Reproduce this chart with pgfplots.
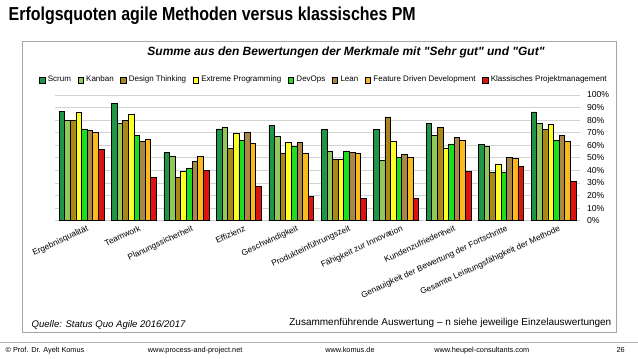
\documentclass[border=0pt]{standalone}
\usepackage{fontspec}
\setmainfont{Liberation Sans}
\newfontfamily\titlefont[FakeStretch=0.85]{Liberation Sans}
\newfontfamily\plainfont[Ligatures=TeXOff]{Liberation Sans}
\usepackage{pgfplots}
\pgfplotsset{compat=1.18}
\definecolor{cScrum}{RGB}{30,150,70}
\definecolor{cKanban}{RGB}{146,200,90}
\definecolor{cDT}{RGB}{170,135,25}
\definecolor{cXP}{RGB}{255,255,40}
\definecolor{cDevOps}{RGB}{30,220,30}
\definecolor{cLean}{RGB}{170,135,70}
\definecolor{cFDD}{RGB}{250,185,30}
\definecolor{cKlass}{RGB}{220,20,15}
\begin{document}
\begin{tikzpicture}[x=0.75pt,y=-0.75pt]
\path[fill=white] (0,0) rectangle (638,359);
\node[anchor=base west, inner sep=0pt, font=\titlefont\bfseries\fontsize{14.1}{16}\selectfont] at (8,21) {Erfolgsquoten agile Methoden versus klassisches PM};
\draw[gray!70, line width=0.5pt] (22,41) rectangle (617,333);
\node[font=\plainfont\bfseries\itshape\fontsize{9}{10}\selectfont] at (346,52) {Summe aus den Bewertungen der Merkmale mit "Sehr gut" und "Gut"};
\coordinate (AX) at (55,221);
\begin{axis}[
  at={(AX)}, anchor=south west,
  width=393.75pt, height=94.5pt, scale only axis,
  xmin=-0.5, xmax=9.5, ymin=0, ymax=100,
  ybar=0pt, bar width=0.107,
  axis x line*=bottom, axis y line*=right,
  x axis line style={draw=gray!40, -}, y axis line style={draw=none, -},
  major tick length=0pt,
  ymajorgrids, grid style={gray!35, line width=0.5pt},
  ytick={0,10,...,100},
  /pgf/number format/assume math mode=true,
  yticklabel={\pgfmathprintnumber{\tick}\%},
  yticklabel style={font=\fontsize{6.5}{7}\selectfont, anchor=west, xshift=2pt},
  xtick={0,...,9},
  xticklabels={Ergebnisqualität, Teamwork, Planungssicherheit, Effizienz, Geschwindigkeit, Produkteinführungszeit, Fähigkeit zur Innovation, Kundenzufriedenheit, Genauigkeit der Bewertung der Fortschritte, Gesamte Leistungsfähigkeit der Methode},
  x tick label style={rotate=25, anchor=north east, font=\fontsize{6.3}{7}\selectfont, inner sep=1pt, yshift=-3pt, xshift=3pt},
  every axis plot/.append style={draw=black, line width=0.5pt},
  legend style={at={(0.513,1)}, anchor=south, yshift=6pt, draw=none, fill=none, font=\fontsize{6}{7}\selectfont, inner sep=0pt, /tikz/every even column/.append style={column sep=2.9pt}},
  legend columns=-1,
  legend image code/.code={\draw[#1, draw=black, line width=0.3pt] (0pt,-2.1pt) rectangle (4.2pt,2.1pt);},
]
\addplot[fill=cScrum] coordinates {(0,87) (1,93) (2,54.5) (3,73) (4,75.5) (5,72.5) (6,72.5) (7,77) (8,60.5) (9,86.5)};
\addplot[fill=cKanban] coordinates {(0,80) (1,77) (2,51.5) (3,74) (4,67) (5,55.5) (6,48) (7,67.5) (8,59) (9,77)};
\addplot[fill=cDT] coordinates {(0,80) (1,79.5) (2,34.5) (3,57.5) (4,53.5) (5,49) (6,82.5) (7,74) (8,38.5) (9,72.5)};
\addplot[fill=cXP] coordinates {(0,86.5) (1,84.5) (2,39.5) (3,69.5) (4,62) (5,48.5) (6,63) (7,57.5) (8,44.5) (9,76.5)};
\addplot[fill=cDevOps] coordinates {(0,73) (1,67.5) (2,42) (3,63.5) (4,59) (5,55.5) (6,50.5) (7,61) (8,38.5) (9,63.5)};
\addplot[fill=cLean] coordinates {(0,71.5) (1,63) (2,47) (3,70) (4,62) (5,54.5) (6,52.5) (7,66) (8,50.5) (9,67.5)};
\addplot[fill=cFDD] coordinates {(0,70.5) (1,65) (2,51) (3,61.5) (4,53.5) (5,53.5) (6,50.5) (7,63.5) (8,49.5) (9,63)};
\addplot[fill=cKlass] coordinates {(0,56.5) (1,34.5) (2,40) (3,27) (4,19.5) (5,18) (6,18) (7,39.5) (8,43) (9,31.5)};
\legend{Scrum, Kanban, Design Thinking, Extreme Programming, DevOps, Lean, Feature Driven Development, Klassisches Projektmanagement}
\end{axis}
\node[anchor=base west, inner sep=0pt, font=\itshape\fontsize{7.2}{8}\selectfont] at (31,328) {Quelle: Status Quo Agile 2016/2017};
\node[anchor=base east, inner sep=0pt, font=\fontsize{7.5}{8}\selectfont] at (612,326) {Zusammenführende Auswertung – n siehe jeweilige Einzelauswertungen};
\draw[gray!60, line width=0.6pt] (0,343) -- (638,343);
\node[anchor=base west, inner sep=0pt, font=\fontsize{5.5}{6}\selectfont] at (5,353) {© Prof. Dr. Ayelt Komus};
\node[anchor=base, inner sep=0pt, font=\fontsize{5.5}{6}\selectfont] at (195,353) {www.process-and-project.net};
\node[anchor=base, inner sep=0pt, font=\fontsize{5.5}{6}\selectfont] at (350,353) {www.komus.de};
\node[anchor=base, inner sep=0pt, font=\fontsize{5.5}{6}\selectfont] at (482,353) {www.heupel-consultants.com};
\node[anchor=base, inner sep=0pt, font=\fontsize{5.5}{6}\selectfont] at (621,353) {26};
\end{tikzpicture}
\end{document}
